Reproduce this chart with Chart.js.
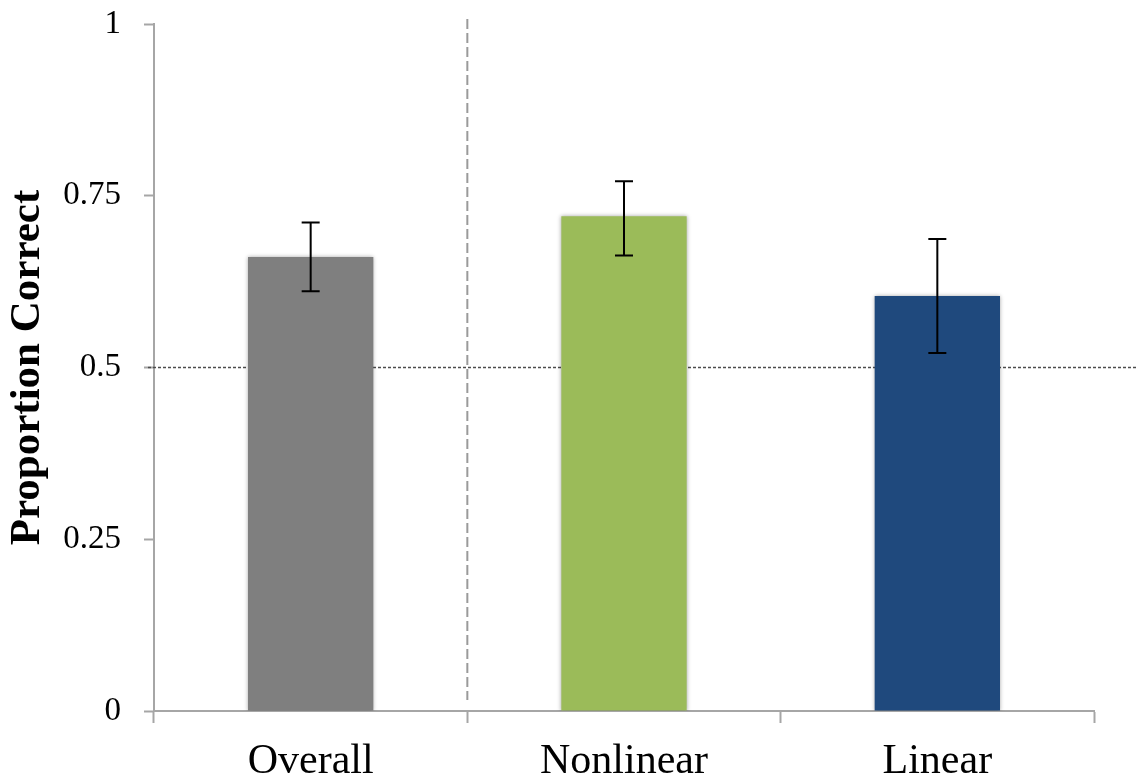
<!DOCTYPE html>
<html>
<head>
<meta charset="utf-8">
<script src="https://cdn.jsdelivr.net/npm/chart.js@4/dist/chart.umd.min.js"></script>
<style>
  html, body { margin: 0; padding: 0; background: #ffffff; }
  #wrap { width: 1137px; height: 782px; }
</style>
</head>
<body>
<div id="wrap"><canvas id="propChart"></canvas></div>
<script>
// data
const categories = ["Overall", "Nonlinear", "Linear"];
const proportions = [0.661, 0.72, 0.604];
const errLow = [0.611, 0.663, 0.521];
const errHigh = [0.711, 0.771, 0.687];
const barColors = ["#7f7f7f", "#9bbb59", "#1f497d"];
const chanceLevel = 0.5;
const yTicks = [0, 0.25, 0.5, 0.75, 1];

const serif = "'Liberation Serif', 'Times New Roman', serif";

// dotted chance line + dashed divider after "Overall", drawn under the bars
const guideLines = {
    id: "guideLines",
    beforeDatasetsDraw(chart) {
        const ctx = chart.ctx;
        const x = chart.scales.x, y = chart.scales.y;
        const area = chart.chartArea;
        ctx.save();
        // chance line
        const yc = y.getPixelForValue(chanceLevel);
        ctx.strokeStyle = "#4d4d4d";
        ctx.lineWidth = 1.5;
        ctx.setLineDash([3, 2]);
        ctx.beginPath();
        ctx.moveTo(area.left - 6, yc);
        ctx.lineTo(chart.width, yc);
        ctx.stroke();
        // divider between Overall and the rest
        const xd = (x.getPixelForValue(0) + x.getPixelForValue(1)) / 2;
        ctx.strokeStyle = "#9a9a9a";
        ctx.lineWidth = 2;
        ctx.setLineDash([10, 4]);
        ctx.beginPath();
        ctx.moveTo(xd, area.top - 5);
        ctx.lineTo(xd, area.bottom - 11);
        ctx.stroke();
        ctx.restore();
    },
    beforeDatasetDraw(chart) {
        const ctx = chart.ctx;
        ctx.save();
        ctx.shadowColor = "rgba(0,0,0,0.35)";
        ctx.shadowBlur = 4;
    },
    afterDatasetDraw(chart) {
        chart.ctx.restore();
    }
};

// error bars on top of the bars
const errorBars = {
    id: "errorBars",
    afterDatasetsDraw(chart) {
        const ctx = chart.ctx;
        const y = chart.scales.y;
        const bars = chart.getDatasetMeta(0).data;
        ctx.save();
        ctx.strokeStyle = "#000000";
        ctx.lineWidth = 2;
        bars.forEach((bar, i) => {
            const yl = y.getPixelForValue(errLow[i]);
            const yh = y.getPixelForValue(errHigh[i]);
            ctx.beginPath();
            ctx.moveTo(bar.x, yl); ctx.lineTo(bar.x, yh);
            ctx.moveTo(bar.x - 9, yl); ctx.lineTo(bar.x + 9, yl);
            ctx.moveTo(bar.x - 9, yh); ctx.lineTo(bar.x + 9, yh);
            ctx.stroke();
        });
        ctx.restore();
    }
};

new Chart("propChart", {
    type: "bar",
    data: {
        labels: categories,
        datasets: [{
            data: proportions,
            backgroundColor: barColors,
            borderWidth: 0,
            barPercentage: 0.4,
            categoryPercentage: 1
        }]
    },
    options: {
        responsive: true,
        maintainAspectRatio: false,
        animation: false,
        layout: { padding: { top: 24, right: 43, left: 0, bottom: 0 } },
        plugins: {
            legend: { display: false },
            tooltip: { enabled: false }
        },
        scales: {
            x: {
                offset: true,
                grid: {
                    offset: true,
                    drawOnChartArea: false,
                    drawTicks: true,
                    tickLength: 12,
                    tickColor: "#a6a6a6",
                    tickWidth: 2
                },
                border: { color: "#a6a6a6", width: 2 },
                ticks: {
                    color: "#000000",
                    padding: 14,
                    font: { family: serif, size: 42 }
                },
                afterFit(scale) { scale.height = 71; }
            },
            y: {
                min: 0,
                max: 1,
                afterBuildTicks(scale) { scale.ticks = yTicks.map(v => ({ value: v })); },
                grid: {
                    drawOnChartArea: false,
                    drawTicks: true,
                    tickLength: 10,
                    tickColor: "#a6a6a6",
                    tickWidth: 2
                },
                border: { color: "#a6a6a6", width: 2 },
                ticks: {
                    color: "#000000",
                    padding: 23,
                    font: { family: serif, size: 33 },
                    callback: v => String(v)
                },
                title: {
                    display: true,
                    text: "Proportion Correct",
                    color: "#000000",
                    padding: { top: 2, bottom: 0 },
                    font: { family: serif, size: 43, weight: "bold" }
                },
                afterFit(scale) {
                    scale.width = 154;
                    scale.paddingTop = 0;
                    scale.paddingBottom = 0;
                }
            }
        }
    },
    plugins: [guideLines, errorBars]
});
</script>
</body>
</html>
